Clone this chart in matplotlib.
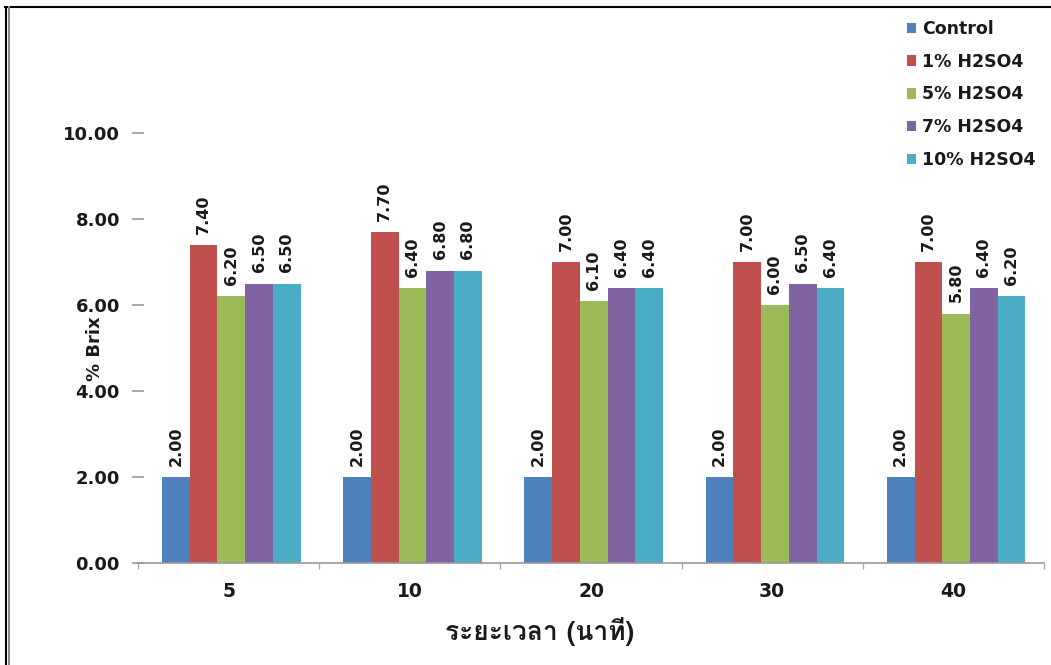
import matplotlib
matplotlib.use("Agg")
import matplotlib.pyplot as plt
from matplotlib import font_manager
from matplotlib.ft2font import FT2Font
from matplotlib.lines import Line2D
import numpy as np

# Data
categories = ["5", "10", "20", "30", "40"]
series_names = ["Control", "1% H2SO4", "5% H2SO4", "7% H2SO4", "10% H2SO4"]
control = [2.00, 2.00, 2.00, 2.00, 2.00]
h2so4_1 = [7.40, 7.70, 7.00, 7.00, 7.00]
h2so4_5 = [6.20, 6.40, 6.10, 6.00, 5.80]
h2so4_7 = [6.50, 6.80, 6.40, 6.50, 6.40]
h2so4_10 = [6.50, 6.80, 6.40, 6.40, 6.20]
y_ticks = [0, 2, 4, 6, 8, 10]
x_title = "ระยะเวลา (นาที)"
y_title = "% Brix"

series = [control, h2so4_1, h2so4_5, h2so4_7, h2so4_10]
colors = ["#4F81BD", "#C0504D", "#9BBB59", "#8064A2", "#4BACC6"]


def find_font_for(ch):
    code = ord(ch)
    for fe in font_manager.fontManager.ttflist:
        try:
            if code in FT2Font(fe.fname).get_charmap():
                return fe.name
        except Exception:
            continue
    return None


thai_font = find_font_for("ร")
base = "DejaVu Sans"
plt.rcParams["font.family"] = [base]
txt_color = "#1a1a1a"

fig = plt.figure(figsize=(10.51, 6.65), dpi=100)
W, H = 1051, 665
left, right = 138 / W, 1044 / W
bottom, top = 1 - 563 / H, 1 - 47 / H
ax = fig.add_axes([left, bottom, right - left, top - bottom])

n = len(series)
bar_w = 0.153
x = np.arange(len(categories))
for i, (vals, c, name) in enumerate(zip(series, colors, series_names)):
    pos = x + 0.015 + (i - (n - 1) / 2) * bar_w
    bars = ax.bar(pos, vals, width=bar_w, color=c, label=name, zorder=2)
    for b, v in zip(bars, vals):
        ax.annotate(f"{v:.2f}", (b.get_x() + b.get_width() / 2, v),
                    xytext=(0, 8), textcoords="offset points",
                    rotation=90, ha="center", va="bottom",
                    fontsize=11.5, fontweight="bold", color=txt_color)

ax.set_xlim(-0.5, len(categories) - 0.5)
ax.set_ylim(0, 12)
ax.set_yticks(y_ticks)
ax.set_yticklabels([f"{t:.2f}" for t in y_ticks], fontsize=13,
                   fontweight="bold", color=txt_color)
ax.set_xticks(x)
ax.set_xticklabels(categories, fontsize=13.5, fontweight="bold", color=txt_color)
ax.tick_params(axis="x", length=0, pad=14)
ax.tick_params(axis="y", direction="inout", length=8, width=1.2,
               color="#999999", pad=9)
# minor ticks at category boundaries
ax.set_xticks(np.arange(-0.5, len(categories)), minor=True)
ax.tick_params(axis="x", which="minor", length=4, color="#aaaaaa", width=1)

for s in ["top", "right", "left"]:
    ax.spines[s].set_visible(False)
ax.spines["bottom"].set_color("#999999")
ax.spines["bottom"].set_linewidth(1.2)

# axis title sits in the gap between the 6.00 and 4.00 tick labels
ax.set_ylabel(y_title, fontsize=13, fontweight="bold", color=txt_color)
ax.yaxis.set_label_coords((104 - 138) / (1044 - 138), (563 - 349) / (563 - 47))

xl_fam = [thai_font, base] if thai_font else [base]
ax.set_xlabel(x_title, fontsize=19, family=xl_fam, color=txt_color,
              fontweight="bold")
ax.xaxis.set_label_coords((540 - 138) / (1044 - 138), -(632 - 563) / (563 - 47))
ax.xaxis.label.set_va("center")

leg = ax.legend(loc="upper left", bbox_to_anchor=(900 / W, 1 - 13 / H),
                bbox_transform=fig.transFigure, frameon=False,
                prop={"weight": "bold", "size": 12.5},
                handlelength=0.55, handleheight=0.55, handletextpad=0.3,
                labelspacing=0.85, borderaxespad=0)
for t in leg.get_texts():
    t.set_color(txt_color)

# frame lines along the top and left edge
fig.add_artist(Line2D([5 / W, 1], [1 - 7 / H, 1 - 7 / H], color="black",
                      lw=1.5, transform=fig.transFigure))
fig.add_artist(Line2D([5.5 / W, 5.5 / W], [0, 1 - 7 / H], color="black",
                      lw=1.5, transform=fig.transFigure))
fig.add_artist(Line2D([8.5 / W, 8.5 / W], [0, 1 - 7 / H], color="#888888",
                      lw=1.5, transform=fig.transFigure))

fig.savefig("out.png", dpi=100)
